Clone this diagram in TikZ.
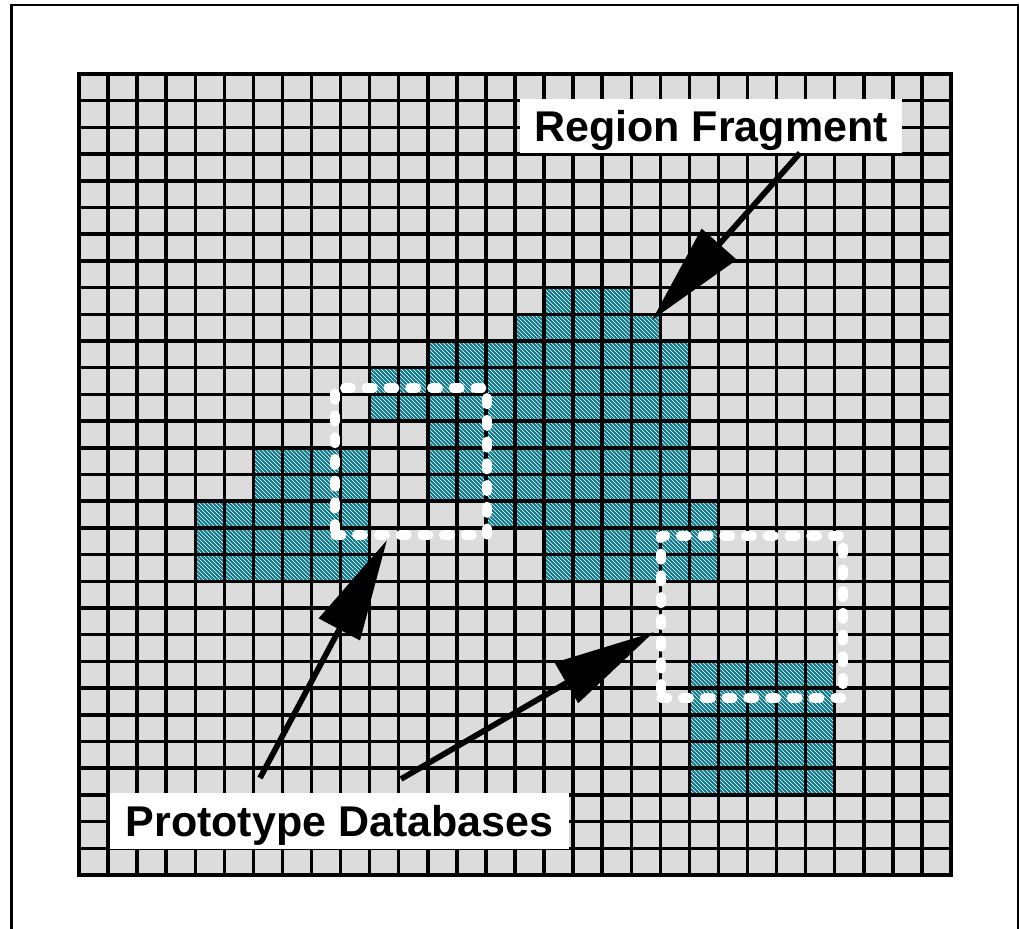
\documentclass[tikz,border=0pt]{standalone}
\usepackage{fontspec}
\setmainfont{Liberation Sans}
\usetikzlibrary{arrows.meta,patterns}

\definecolor{cellgray}{RGB}{220,220,220}
\definecolor{cellteal}{RGB}{10,120,138}

\tikzset{
  region/.style={preaction={fill=cellteal}, pattern=north west lines, pattern color=white},
  gridline/.style={line width=2.6pt, black, line cap=rect},
  probebox/.style={draw=white, line width=7pt, line cap=round, line join=round,
                   dash pattern=on 5pt off 11.3pt, inner sep=0pt, outer sep=0pt},
  callout/.style={fill=white, inner sep=0pt, text height=23pt, text depth=0pt,
                  font=\bfseries\fontsize{32.25pt}{38pt}\selectfont},
  pointer/.style={line width=4.3pt, black, line join=round,
                  -{Triangle[length=76pt 0 0, width=34pt 0 0]}},
}

\begin{document}
\begin{tikzpicture}[x=0.75pt, y=-0.75pt]
\useasboundingbox (0,0) rectangle (1019,928);
\clip (0,0) rectangle (1019,928);

% frame
\draw[line width=1.6pt] (11.5,5) rectangle (1018,940);

% cell raster: 30 x 30 cells
\begin{scope}[shift={(59.25pt,-55.5pt)}, x=21.8pt, y=-20.025pt]
  \fill[cellgray] (0,0) rectangle (30,30);
  % occupied cells
  \fill[region] (16,8) rectangle (19,9);
  \fill[region] (15,9) rectangle (20,10);
  \fill[region] (12,10) rectangle (21,11);
  \fill[region] (10,11) rectangle (21,13);
  \fill[region] (12,13) rectangle (21,16);
  \fill[region] (6,14) rectangle (10,16);
  \fill[region] (4,16) rectangle (10,19);
  \fill[region] (14,16) rectangle (22,17);
  \fill[region] (16,17) rectangle (22,19);
  \fill[region] (21,22) rectangle (26,27);
  % grid lines
  \foreach \i in {0,...,30} {
    \draw[gridline] (\i,0) -- (\i,30);
    \draw[gridline] (0,\i) -- (30,\i);
  }
\end{scope}

% prototype windows
\node[probebox, minimum width=114pt, minimum height=110.25pt] (dbA) at (411,461.5) {};
\node[probebox, minimum width=136.5pt, minimum height=121.5pt] (dbB) at (752,617) {};

% labels
\node[callout, minimum width=286.5pt, minimum height=40.5pt] (lblR) at (711,126) {Region Fragment};
\node[callout, minimum width=344.25pt, minimum height=42pt] (lblP) at (339.5,821) {Prototype Databases};

% arrow anchors
\coordinate (rStart) at (800,153);
\coordinate (rTip) at (652,320);
\coordinate (pStartA) at (260,778);
\coordinate (pTipA) at (387,540);
\coordinate (pStartB) at (401,779);
\coordinate (pTipB) at (654,632);

\draw[pointer] (rStart) -- (rTip);
\draw[pointer] (pStartA) -- (pTipA);
\draw[pointer] (pStartB) -- (pTipB);
\end{tikzpicture}
\end{document}
